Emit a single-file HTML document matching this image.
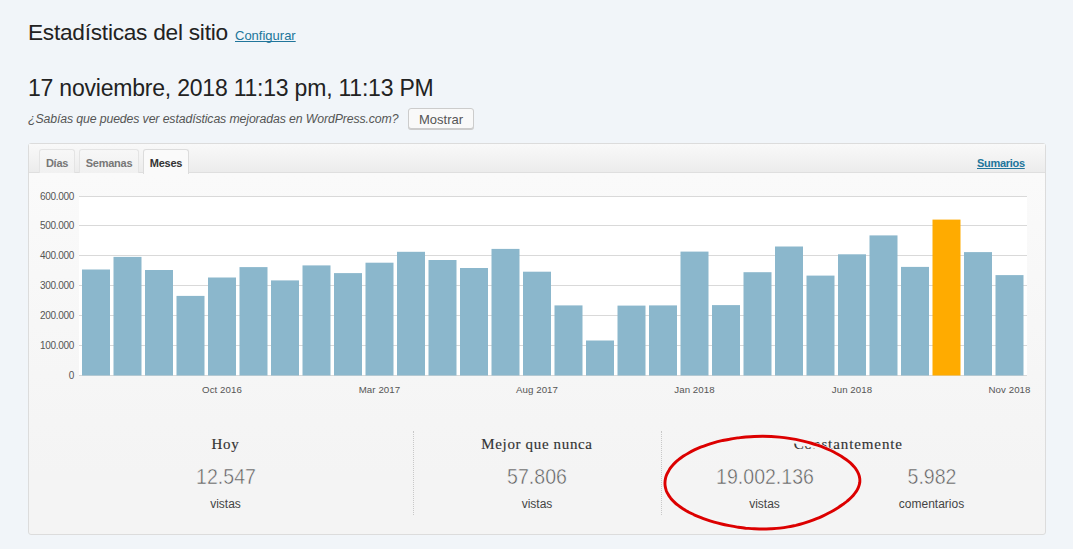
<!DOCTYPE html>
<html><head><meta charset="utf-8"><title>Estadísticas del sitio</title>
<style>
*{margin:0;padding:0;box-sizing:border-box}
html,body{width:1073px;height:549px;overflow:hidden;background:#f1f5f9;font-family:"Liberation Sans",sans-serif;color:#222}
.abs{position:absolute;white-space:nowrap}
#h1{left:28px;top:18px;font-size:22.7px;line-height:28px;color:#222;letter-spacing:-0.26px}
#cfg{left:235px;top:27px;font-size:13px;line-height:18px;color:#21759b;text-decoration:underline;text-decoration-skip-ink:none}
#h2{left:28px;top:74px;font-size:23px;line-height:28px;color:#222;letter-spacing:-0.213px}
#tip{left:28px;top:110px;font-size:12.3px;line-height:18px;font-style:italic;color:#555;letter-spacing:-0.12px}
#btn{left:408px;top:108px;width:66px;height:21px;border:1px solid #ccc;border-radius:3px;background:#f9f9f9;box-shadow:0 1px 0 #ccc;font-size:13px;line-height:21px;text-align:center;color:#555}
#panel{left:28px;top:143px;width:1018px;height:392px;border:1px solid #dcdcdc;border-radius:3px;background:linear-gradient(#fafafa 30px,#f4f4f4 330px)}
#tabbar{left:29px;top:144px;width:1016px;height:29px;background:linear-gradient(#f9f9f9,#ececec);border-bottom:1px solid #dfdfdf}
.tab{top:149px;height:24px;border:1px solid #e4e4e4;border-bottom:none;border-radius:3px 3px 0 0;background:linear-gradient(#f7f7f7,#f1f1f1);font-size:11px;line-height:27px;text-align:center;color:#777;font-weight:bold;letter-spacing:-0.25px}
.tab.on{background:#fafafa;color:#333;height:25px;border-color:#dcdcdc}
#sum{left:977px;top:156px;font-size:11px;line-height:14px;font-weight:bold;color:#21759b;text-decoration:underline;text-decoration-skip-ink:none;letter-spacing:-0.3px}
.yl{position:absolute;left:20px;width:54px;text-align:right;font-size:10px;line-height:12px;color:#555;letter-spacing:-0.3px}
.xl{position:absolute;top:384px;width:80px;text-align:center;font-size:9.7px;line-height:12px;color:#555;letter-spacing:0.08px}
.st{position:absolute;width:200px;text-align:center;white-space:nowrap}
.ttl{font-family:"Liberation Serif",serif;font-size:15px;line-height:18px;color:#333;top:435px;letter-spacing:0.65px;-webkit-text-stroke:0.15px #333}
.num{font-size:22px;line-height:26px;color:#5c5c5c;top:464px;-webkit-text-stroke:0.5px #f5f5f5;transform:scaleX(0.888)}
.lbl{font-size:12px;line-height:16px;color:#444;top:496px}
.vd{position:absolute;top:431px;height:84px;width:0;border-left:1px dotted #c8c8c8}
</style></head><body>
<div class="abs" id="h1">Estadísticas del sitio</div>
<div class="abs" id="cfg">Configurar</div>
<div class="abs" id="h2">17 noviembre, 2018 11:13 pm, 11:13 PM</div>
<div class="abs" id="tip">¿Sabías que puedes ver estadísticas mejoradas en WordPress.com?</div>
<div class="abs" id="btn">Mostrar</div>
<div class="abs" id="panel"></div>
<div class="abs" id="tabbar"></div>
<div class="abs tab" style="left:39px;width:36px">Días</div>
<div class="abs tab" style="left:79px;width:60px">Semanas</div>
<div class="abs tab on" style="left:143px;width:46px">Meses</div>
<div class="abs" id="sum">Sumarios</div>
<svg class="abs" style="left:0;top:0" width="1073" height="549" viewBox="0 0 1073 549">
<rect x="79" y="196" width="948" height="180" fill="#ffffff"/>
<rect x="79" y="196" width="948" height="1" fill="#d9d9d9"/>
<rect x="79" y="225" width="948" height="1" fill="#d9d9d9"/>
<rect x="79" y="255" width="948" height="1" fill="#d9d9d9"/>
<rect x="79" y="285" width="948" height="1" fill="#d9d9d9"/>
<rect x="79" y="315" width="948" height="1" fill="#d9d9d9"/>
<rect x="79" y="345" width="948" height="1" fill="#d9d9d9"/>
<rect x="79" y="375" width="948" height="1" fill="#d9d9d9"/>
<rect x="82.0" y="269.5" width="28" height="106.0" fill="#8bb7cc"/>
<rect x="113.5" y="256.9" width="28" height="118.6" fill="#8bb7cc"/>
<rect x="145.0" y="270.0" width="28" height="105.5" fill="#8bb7cc"/>
<rect x="176.5" y="295.9" width="28" height="79.6" fill="#8bb7cc"/>
<rect x="208.0" y="277.5" width="28" height="98.0" fill="#8bb7cc"/>
<rect x="239.5" y="267.1" width="28" height="108.4" fill="#8bb7cc"/>
<rect x="271.0" y="280.4" width="28" height="95.1" fill="#8bb7cc"/>
<rect x="302.5" y="265.4" width="28" height="110.1" fill="#8bb7cc"/>
<rect x="334.0" y="273.1" width="28" height="102.4" fill="#8bb7cc"/>
<rect x="365.5" y="262.7" width="28" height="112.8" fill="#8bb7cc"/>
<rect x="397.0" y="251.8" width="28" height="123.7" fill="#8bb7cc"/>
<rect x="428.5" y="260.0" width="28" height="115.5" fill="#8bb7cc"/>
<rect x="460.0" y="268.0" width="28" height="107.5" fill="#8bb7cc"/>
<rect x="491.5" y="248.9" width="28" height="126.6" fill="#8bb7cc"/>
<rect x="523.0" y="271.7" width="28" height="103.8" fill="#8bb7cc"/>
<rect x="554.5" y="305.4" width="28" height="70.1" fill="#8bb7cc"/>
<rect x="586.0" y="340.5" width="28" height="35.0" fill="#8bb7cc"/>
<rect x="617.5" y="305.6" width="28" height="69.9" fill="#8bb7cc"/>
<rect x="649.0" y="305.4" width="28" height="70.1" fill="#8bb7cc"/>
<rect x="680.5" y="251.6" width="28" height="123.9" fill="#8bb7cc"/>
<rect x="712.0" y="305.1" width="28" height="70.4" fill="#8bb7cc"/>
<rect x="743.5" y="272.2" width="28" height="103.3" fill="#8bb7cc"/>
<rect x="775.0" y="246.5" width="28" height="129.0" fill="#8bb7cc"/>
<rect x="806.5" y="275.6" width="28" height="99.9" fill="#8bb7cc"/>
<rect x="838.0" y="254.3" width="28" height="121.2" fill="#8bb7cc"/>
<rect x="869.5" y="235.4" width="28" height="140.1" fill="#8bb7cc"/>
<rect x="901.0" y="266.9" width="28" height="108.6" fill="#8bb7cc"/>
<rect x="932.5" y="219.6" width="28" height="155.9" fill="#ffab00"/>
<rect x="964.0" y="252.1" width="28" height="123.4" fill="#8bb7cc"/>
<rect x="995.5" y="275.1" width="28" height="100.4" fill="#8bb7cc"/>
</svg>
<div class="yl" style="top:191px">600.000</div>
<div class="yl" style="top:220px">500.000</div>
<div class="yl" style="top:250px">400.000</div>
<div class="yl" style="top:280px">300.000</div>
<div class="yl" style="top:310px">200.000</div>
<div class="yl" style="top:340px">100.000</div>
<div class="yl" style="top:370px">0</div>
<div class="xl" style="left:182.0px">Oct 2016</div>
<div class="xl" style="left:339.5px">Mar 2017</div>
<div class="xl" style="left:497.0px">Aug 2017</div>
<div class="xl" style="left:654.5px">Jan 2018</div>
<div class="xl" style="left:812.0px">Jun 2018</div>
<div class="xl" style="left:969.5px">Nov 2018</div>
<div class="st ttl" style="left:125.5px">Hoy</div>
<div class="st num" style="left:125.5px">12.547</div>
<div class="st lbl" style="left:125.5px">vistas</div>
<div class="st ttl" style="left:437px">Mejor que nunca</div>
<div class="st num" style="left:437px">57.806</div>
<div class="st lbl" style="left:437px">vistas</div>
<div class="st ttl" style="left:748.3px;letter-spacing:0.9px">Constantemente</div>
<div class="st num" style="left:664.5px">19.002.136</div>
<div class="st lbl" style="left:664.5px">vistas</div>
<div class="st num" style="left:831.5px">5.982</div>
<div class="st lbl" style="left:831.5px">comentarios</div>
<svg class="abs" style="left:0;top:0" width="1073" height="549" viewBox="0 0 1073 549">
<defs><clipPath id="inq"><path d="M665.0,482.3C665.0,481.0 665.2,479.6 665.5,478.3C665.8,476.9 666.3,475.6 666.8,474.3C667.4,473.0 668.1,471.7 668.9,470.4C669.6,469.1 670.5,467.8 671.6,466.6C672.6,465.3 673.7,464.1 674.9,462.9C676.1,461.7 677.5,460.5 678.9,459.4C680.3,458.2 681.9,457.1 683.5,456.0C685.1,455.0 686.9,453.9 688.7,452.9C690.5,451.9 692.4,450.9 694.4,449.9C696.3,449.0 698.4,448.1 700.6,447.2C702.7,446.4 704.9,445.6 707.2,444.8C709.5,444.0 711.9,443.3 714.3,442.6C716.7,441.9 719.2,441.3 721.8,440.7C724.3,440.2 726.9,439.6 729.5,439.2C732.2,438.7 734.9,438.3 737.6,437.9C740.3,437.6 743.1,437.2 745.8,437.0C748.6,436.8 751.4,436.6 754.2,436.5C757.0,436.4 759.9,436.3 762.7,436.3C765.5,436.3 768.4,436.4 771.2,436.5C774.0,436.7 776.8,436.9 779.5,437.1C782.3,437.4 785.0,437.7 787.7,438.1C790.4,438.5 793.1,438.9 795.7,439.4C798.3,439.9 800.8,440.5 803.3,441.1C805.8,441.7 808.2,442.3 810.6,443.0C813.0,443.7 815.3,444.4 817.5,445.2C819.8,446.0 822.0,446.8 824.1,447.7C826.2,448.5 828.3,449.4 830.3,450.3C832.2,451.2 834.2,452.2 836.0,453.2C837.9,454.2 839.6,455.2 841.3,456.2C843.0,457.3 844.6,458.4 846.1,459.5C847.6,460.6 849.1,461.8 850.4,462.9C851.7,464.1 852.9,465.3 853.9,466.6C855.0,467.8 856.0,469.1 856.8,470.4C857.5,471.7 858.2,473.0 858.7,474.3C859.2,475.6 859.5,476.9 859.7,478.3C859.9,479.6 859.9,481.0 859.8,482.3C859.6,483.6 859.3,485.0 858.8,486.3C858.4,487.6 857.8,488.9 857.0,490.2C856.3,491.5 855.4,492.7 854.4,493.9C853.5,495.2 852.3,496.4 851.2,497.5C850.0,498.7 848.7,499.9 847.3,501.0C846.0,502.1 844.5,503.2 843.1,504.3C841.6,505.3 840.0,506.4 838.4,507.4C836.8,508.4 835.2,509.4 833.5,510.4C831.8,511.4 830.0,512.4 828.2,513.3C826.4,514.3 824.5,515.2 822.6,516.1C820.7,517.0 818.7,517.9 816.6,518.7C814.5,519.6 812.4,520.4 810.1,521.2C807.9,522.0 805.6,522.7 803.2,523.4C800.8,524.1 798.3,524.8 795.8,525.4C793.3,525.9 790.6,526.5 788.0,526.9C785.3,527.4 782.5,527.8 779.7,528.1C777.0,528.4 774.1,528.6 771.3,528.8C768.4,528.9 765.6,529.0 762.7,529.0C759.8,529.0 757.0,528.9 754.1,528.8C751.3,528.7 748.4,528.4 745.6,528.2C742.8,527.9 740.1,527.5 737.3,527.1C734.6,526.7 731.9,526.2 729.3,525.7C726.7,525.2 724.1,524.7 721.6,524.0C719.1,523.4 716.6,522.8 714.2,522.1C711.8,521.4 709.4,520.7 707.1,519.9C704.8,519.1 702.6,518.3 700.4,517.4C698.3,516.6 696.2,515.7 694.1,514.8C692.1,513.8 690.1,512.9 688.3,511.9C686.4,510.9 684.6,509.8 682.9,508.7C681.3,507.7 679.7,506.6 678.2,505.4C676.7,504.3 675.3,503.1 674.1,501.9C672.8,500.7 671.7,499.4 670.7,498.2C669.7,496.9 668.8,495.6 668.1,494.3C667.3,493.0 666.7,491.7 666.2,490.4C665.8,489.0 665.4,487.7 665.2,486.3C665.0,485.0 664.9,483.6 665.0,482.3Z"/></clipPath></defs>
<path d="M665.0,482.3C665.0,481.0 665.2,479.6 665.5,478.3C665.8,476.9 666.3,475.6 666.8,474.3C667.4,473.0 668.1,471.7 668.9,470.4C669.6,469.1 670.5,467.8 671.6,466.6C672.6,465.3 673.7,464.1 674.9,462.9C676.1,461.7 677.5,460.5 678.9,459.4C680.3,458.2 681.9,457.1 683.5,456.0C685.1,455.0 686.9,453.9 688.7,452.9C690.5,451.9 692.4,450.9 694.4,449.9C696.3,449.0 698.4,448.1 700.6,447.2C702.7,446.4 704.9,445.6 707.2,444.8C709.5,444.0 711.9,443.3 714.3,442.6C716.7,441.9 719.2,441.3 721.8,440.7C724.3,440.2 726.9,439.6 729.5,439.2C732.2,438.7 734.9,438.3 737.6,437.9C740.3,437.6 743.1,437.2 745.8,437.0C748.6,436.8 751.4,436.6 754.2,436.5C757.0,436.4 759.9,436.3 762.7,436.3C765.5,436.3 768.4,436.4 771.2,436.5C774.0,436.7 776.8,436.9 779.5,437.1C782.3,437.4 785.0,437.7 787.7,438.1C790.4,438.5 793.1,438.9 795.7,439.4C798.3,439.9 800.8,440.5 803.3,441.1C805.8,441.7 808.2,442.3 810.6,443.0C813.0,443.7 815.3,444.4 817.5,445.2C819.8,446.0 822.0,446.8 824.1,447.7C826.2,448.5 828.3,449.4 830.3,450.3C832.2,451.2 834.2,452.2 836.0,453.2C837.9,454.2 839.6,455.2 841.3,456.2C843.0,457.3 844.6,458.4 846.1,459.5C847.6,460.6 849.1,461.8 850.4,462.9C851.7,464.1 852.9,465.3 853.9,466.6C855.0,467.8 856.0,469.1 856.8,470.4C857.5,471.7 858.2,473.0 858.7,474.3C859.2,475.6 859.5,476.9 859.7,478.3C859.9,479.6 859.9,481.0 859.8,482.3C859.6,483.6 859.3,485.0 858.8,486.3C858.4,487.6 857.8,488.9 857.0,490.2C856.3,491.5 855.4,492.7 854.4,493.9C853.5,495.2 852.3,496.4 851.2,497.5C850.0,498.7 848.7,499.9 847.3,501.0C846.0,502.1 844.5,503.2 843.1,504.3C841.6,505.3 840.0,506.4 838.4,507.4C836.8,508.4 835.2,509.4 833.5,510.4C831.8,511.4 830.0,512.4 828.2,513.3C826.4,514.3 824.5,515.2 822.6,516.1C820.7,517.0 818.7,517.9 816.6,518.7C814.5,519.6 812.4,520.4 810.1,521.2C807.9,522.0 805.6,522.7 803.2,523.4C800.8,524.1 798.3,524.8 795.8,525.4C793.3,525.9 790.6,526.5 788.0,526.9C785.3,527.4 782.5,527.8 779.7,528.1C777.0,528.4 774.1,528.6 771.3,528.8C768.4,528.9 765.6,529.0 762.7,529.0C759.8,529.0 757.0,528.9 754.1,528.8C751.3,528.7 748.4,528.4 745.6,528.2C742.8,527.9 740.1,527.5 737.3,527.1C734.6,526.7 731.9,526.2 729.3,525.7C726.7,525.2 724.1,524.7 721.6,524.0C719.1,523.4 716.6,522.8 714.2,522.1C711.8,521.4 709.4,520.7 707.1,519.9C704.8,519.1 702.6,518.3 700.4,517.4C698.3,516.6 696.2,515.7 694.1,514.8C692.1,513.8 690.1,512.9 688.3,511.9C686.4,510.9 684.6,509.8 682.9,508.7C681.3,507.7 679.7,506.6 678.2,505.4C676.7,504.3 675.3,503.1 674.1,501.9C672.8,500.7 671.7,499.4 670.7,498.2C669.7,496.9 668.8,495.6 668.1,494.3C667.3,493.0 666.7,491.7 666.2,490.4C665.8,489.0 665.4,487.7 665.2,486.3C665.0,485.0 664.9,483.6 665.0,482.3Z" fill="none" stroke="#f5f5f5" stroke-width="8.4" clip-path="url(#inq)"/>
<path d="M665.0,482.3C665.0,481.0 665.2,479.6 665.5,478.3C665.8,476.9 666.3,475.6 666.8,474.3C667.4,473.0 668.1,471.7 668.9,470.4C669.6,469.1 670.5,467.8 671.6,466.6C672.6,465.3 673.7,464.1 674.9,462.9C676.1,461.7 677.5,460.5 678.9,459.4C680.3,458.2 681.9,457.1 683.5,456.0C685.1,455.0 686.9,453.9 688.7,452.9C690.5,451.9 692.4,450.9 694.4,449.9C696.3,449.0 698.4,448.1 700.6,447.2C702.7,446.4 704.9,445.6 707.2,444.8C709.5,444.0 711.9,443.3 714.3,442.6C716.7,441.9 719.2,441.3 721.8,440.7C724.3,440.2 726.9,439.6 729.5,439.2C732.2,438.7 734.9,438.3 737.6,437.9C740.3,437.6 743.1,437.2 745.8,437.0C748.6,436.8 751.4,436.6 754.2,436.5C757.0,436.4 759.9,436.3 762.7,436.3C765.5,436.3 768.4,436.4 771.2,436.5C774.0,436.7 776.8,436.9 779.5,437.1C782.3,437.4 785.0,437.7 787.7,438.1C790.4,438.5 793.1,438.9 795.7,439.4C798.3,439.9 800.8,440.5 803.3,441.1C805.8,441.7 808.2,442.3 810.6,443.0C813.0,443.7 815.3,444.4 817.5,445.2C819.8,446.0 822.0,446.8 824.1,447.7C826.2,448.5 828.3,449.4 830.3,450.3C832.2,451.2 834.2,452.2 836.0,453.2C837.9,454.2 839.6,455.2 841.3,456.2C843.0,457.3 844.6,458.4 846.1,459.5C847.6,460.6 849.1,461.8 850.4,462.9C851.7,464.1 852.9,465.3 853.9,466.6C855.0,467.8 856.0,469.1 856.8,470.4C857.5,471.7 858.2,473.0 858.7,474.3C859.2,475.6 859.5,476.9 859.7,478.3C859.9,479.6 859.9,481.0 859.8,482.3C859.6,483.6 859.3,485.0 858.8,486.3C858.4,487.6 857.8,488.9 857.0,490.2C856.3,491.5 855.4,492.7 854.4,493.9C853.5,495.2 852.3,496.4 851.2,497.5C850.0,498.7 848.7,499.9 847.3,501.0C846.0,502.1 844.5,503.2 843.1,504.3C841.6,505.3 840.0,506.4 838.4,507.4C836.8,508.4 835.2,509.4 833.5,510.4C831.8,511.4 830.0,512.4 828.2,513.3C826.4,514.3 824.5,515.2 822.6,516.1C820.7,517.0 818.7,517.9 816.6,518.7C814.5,519.6 812.4,520.4 810.1,521.2C807.9,522.0 805.6,522.7 803.2,523.4C800.8,524.1 798.3,524.8 795.8,525.4C793.3,525.9 790.6,526.5 788.0,526.9C785.3,527.4 782.5,527.8 779.7,528.1C777.0,528.4 774.1,528.6 771.3,528.8C768.4,528.9 765.6,529.0 762.7,529.0C759.8,529.0 757.0,528.9 754.1,528.8C751.3,528.7 748.4,528.4 745.6,528.2C742.8,527.9 740.1,527.5 737.3,527.1C734.6,526.7 731.9,526.2 729.3,525.7C726.7,525.2 724.1,524.7 721.6,524.0C719.1,523.4 716.6,522.8 714.2,522.1C711.8,521.4 709.4,520.7 707.1,519.9C704.8,519.1 702.6,518.3 700.4,517.4C698.3,516.6 696.2,515.7 694.1,514.8C692.1,513.8 690.1,512.9 688.3,511.9C686.4,510.9 684.6,509.8 682.9,508.7C681.3,507.7 679.7,506.6 678.2,505.4C676.7,504.3 675.3,503.1 674.1,501.9C672.8,500.7 671.7,499.4 670.7,498.2C669.7,496.9 668.8,495.6 668.1,494.3C667.3,493.0 666.7,491.7 666.2,490.4C665.8,489.0 665.4,487.7 665.2,486.3C665.0,485.0 664.9,483.6 665.0,482.3Z" fill="none" stroke="#f5f5f5" stroke-width="4.4"/>
</svg>
<div class="vd" style="left:413px"></div>
<div class="vd" style="left:661px"></div>
<svg class="abs" style="left:0;top:0" width="1073" height="549" viewBox="0 0 1073 549">
<path d="M665.0,482.3C665.0,481.0 665.2,479.6 665.5,478.3C665.8,476.9 666.3,475.6 666.8,474.3C667.4,473.0 668.1,471.7 668.9,470.4C669.6,469.1 670.5,467.8 671.6,466.6C672.6,465.3 673.7,464.1 674.9,462.9C676.1,461.7 677.5,460.5 678.9,459.4C680.3,458.2 681.9,457.1 683.5,456.0C685.1,455.0 686.9,453.9 688.7,452.9C690.5,451.9 692.4,450.9 694.4,449.9C696.3,449.0 698.4,448.1 700.6,447.2C702.7,446.4 704.9,445.6 707.2,444.8C709.5,444.0 711.9,443.3 714.3,442.6C716.7,441.9 719.2,441.3 721.8,440.7C724.3,440.2 726.9,439.6 729.5,439.2C732.2,438.7 734.9,438.3 737.6,437.9C740.3,437.6 743.1,437.2 745.8,437.0C748.6,436.8 751.4,436.6 754.2,436.5C757.0,436.4 759.9,436.3 762.7,436.3C765.5,436.3 768.4,436.4 771.2,436.5C774.0,436.7 776.8,436.9 779.5,437.1C782.3,437.4 785.0,437.7 787.7,438.1C790.4,438.5 793.1,438.9 795.7,439.4C798.3,439.9 800.8,440.5 803.3,441.1C805.8,441.7 808.2,442.3 810.6,443.0C813.0,443.7 815.3,444.4 817.5,445.2C819.8,446.0 822.0,446.8 824.1,447.7C826.2,448.5 828.3,449.4 830.3,450.3C832.2,451.2 834.2,452.2 836.0,453.2C837.9,454.2 839.6,455.2 841.3,456.2C843.0,457.3 844.6,458.4 846.1,459.5C847.6,460.6 849.1,461.8 850.4,462.9C851.7,464.1 852.9,465.3 853.9,466.6C855.0,467.8 856.0,469.1 856.8,470.4C857.5,471.7 858.2,473.0 858.7,474.3C859.2,475.6 859.5,476.9 859.7,478.3C859.9,479.6 859.9,481.0 859.8,482.3C859.6,483.6 859.3,485.0 858.8,486.3C858.4,487.6 857.8,488.9 857.0,490.2C856.3,491.5 855.4,492.7 854.4,493.9C853.5,495.2 852.3,496.4 851.2,497.5C850.0,498.7 848.7,499.9 847.3,501.0C846.0,502.1 844.5,503.2 843.1,504.3C841.6,505.3 840.0,506.4 838.4,507.4C836.8,508.4 835.2,509.4 833.5,510.4C831.8,511.4 830.0,512.4 828.2,513.3C826.4,514.3 824.5,515.2 822.6,516.1C820.7,517.0 818.7,517.9 816.6,518.7C814.5,519.6 812.4,520.4 810.1,521.2C807.9,522.0 805.6,522.7 803.2,523.4C800.8,524.1 798.3,524.8 795.8,525.4C793.3,525.9 790.6,526.5 788.0,526.9C785.3,527.4 782.5,527.8 779.7,528.1C777.0,528.4 774.1,528.6 771.3,528.8C768.4,528.9 765.6,529.0 762.7,529.0C759.8,529.0 757.0,528.9 754.1,528.8C751.3,528.7 748.4,528.4 745.6,528.2C742.8,527.9 740.1,527.5 737.3,527.1C734.6,526.7 731.9,526.2 729.3,525.7C726.7,525.2 724.1,524.7 721.6,524.0C719.1,523.4 716.6,522.8 714.2,522.1C711.8,521.4 709.4,520.7 707.1,519.9C704.8,519.1 702.6,518.3 700.4,517.4C698.3,516.6 696.2,515.7 694.1,514.8C692.1,513.8 690.1,512.9 688.3,511.9C686.4,510.9 684.6,509.8 682.9,508.7C681.3,507.7 679.7,506.6 678.2,505.4C676.7,504.3 675.3,503.1 674.1,501.9C672.8,500.7 671.7,499.4 670.7,498.2C669.7,496.9 668.8,495.6 668.1,494.3C667.3,493.0 666.7,491.7 666.2,490.4C665.8,489.0 665.4,487.7 665.2,486.3C665.0,485.0 664.9,483.6 665.0,482.3Z" fill="none" stroke="#dc0000" stroke-width="2.9"/>
</svg>
</body></html>
